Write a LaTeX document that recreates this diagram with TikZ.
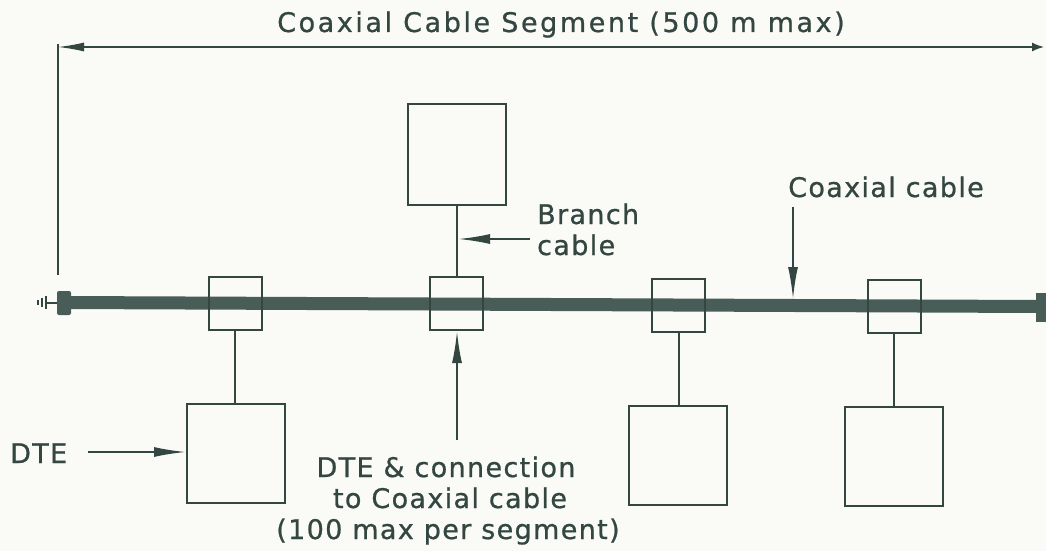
\documentclass[tikz,border=0pt]{standalone}
\usepackage{fontspec}
\setmainfont[LetterSpace=5,FakeBold=0.8]{DejaVu Sans}
\newfontfamily\titlefont[LetterSpace=9.5,FakeBold=0.8]{DejaVu Sans}
\usetikzlibrary{arrows.meta}
\definecolor{ink}{RGB}{52,70,66}
\definecolor{bar}{RGB}{72,92,88}
\definecolor{paper}{RGB}{250,250,246}
\tikzset{
  lbl/.style={text=ink, inner sep=0pt, font=\fontsize{27}{30}\selectfont},
  trx/.style={draw=ink, line width=2pt, minimum width=53pt, minimum height=53pt, inner sep=0pt},
  dte/.style={draw=ink, line width=2pt, minimum width=98pt, minimum height=99pt, inner sep=0pt},
  wire/.style={draw=ink, line width=2pt},
  pointer/.style={draw=ink, line width=2pt, -{Latex[length=32pt,width=10pt]}},
  dim/.style={draw=ink, line width=1.5pt, {Latex[length=26pt,width=9pt]}-{Latex[length=12pt,width=9pt]}},
}
\begin{document}
\begin{tikzpicture}[x=1pt,y=-1pt]
\fill[paper] (0,0) rectangle (1046,551);
\useasboundingbox (0,0) rectangle (1046,551);

% dimension line
\coordinate (dimL) at (58,47);
\coordinate (dimR) at (1044,47);
\coordinate (dimLow) at (58,275);
\draw[dim] (dimL) -- (dimR);
\draw[ink, line width=1.5pt] (58,44) -- (dimLow);
\node[lbl, font=\fontsize{27}{30}\titlefont, anchor=base] (title) at (561,32) {Coaxial Cable Segment (500 m max)};

% coaxial cable bar
\coordinate (barL) at (64,302.5);
\coordinate (barR) at (1040,306.5);
\draw[bar, line width=13pt] (barL) -- (barR);
\fill[bar, rounded corners=2pt] (57,291) rectangle (71,315);
\fill[bar] (1036,293) rectangle (1046,322);
% terminator
\draw[ink, line width=2pt] (46,302.5) -- (57,302.5);
\draw[ink, line width=2pt] (46,296) -- (46,309);
\draw[ink, line width=2pt] (42,298) -- (42,307);
\draw[ink, line width=2pt] (38,300) -- (38,305);

% transceivers
\node[trx] (t1) at (235,303.5) {};
\node[trx] (t2) at (456,303.5) {};
\node[trx] (t3) at (678.5,305) {};
\node[trx] (t4) at (894,306.5) {};

% DTEs
\node[dte] (d1) at (236,453) {};
\node[dte, minimum height=101pt] (d2) at (457,154.5) {};
\node[dte] (d3) at (677.5,455) {};
\node[dte] (d4) at (894,456.5) {};

% branch cables
\draw[wire] (t1.south) -- (t1.south |- d1.north);
\draw[wire] (d2.south) -- (d2.south |- t2.north);
\draw[wire] (t3.south) -- (t3.south |- d3.north);
\draw[wire] (t4.south) -- (t4.south |- d4.north);

% labels and pointers
\node[lbl, anchor=base] (coaxlbl) at (886,197) {Coaxial cable};
\coordinate (coaxtip) at (793,299);
\draw[pointer] (793,207) -- (coaxtip);

\node[lbl, anchor=base west] (branch1) at (537,224) {Branch};
\node[lbl, anchor=base west] (branch2) at (537,255) {cable};
\coordinate (branchtip) at (458,239);
\draw[pointer] (530,239) -- (branchtip);

\node[lbl, anchor=base west] (dtelbl) at (10,463) {DTE};
\draw[pointer] (88,452) -- (d1.west |- 0,452);

\node[lbl, anchor=base] (conn1) at (446,477) {DTE \& connection};
\node[lbl, anchor=base] (conn2) at (450,508) {to Coaxial cable};
\node[lbl, anchor=base] (conn3) at (448,539) {(100 max per segment)};
\draw[pointer] (457,440) -- (t2.south -| 457,0);
\end{tikzpicture}
\end{document}
